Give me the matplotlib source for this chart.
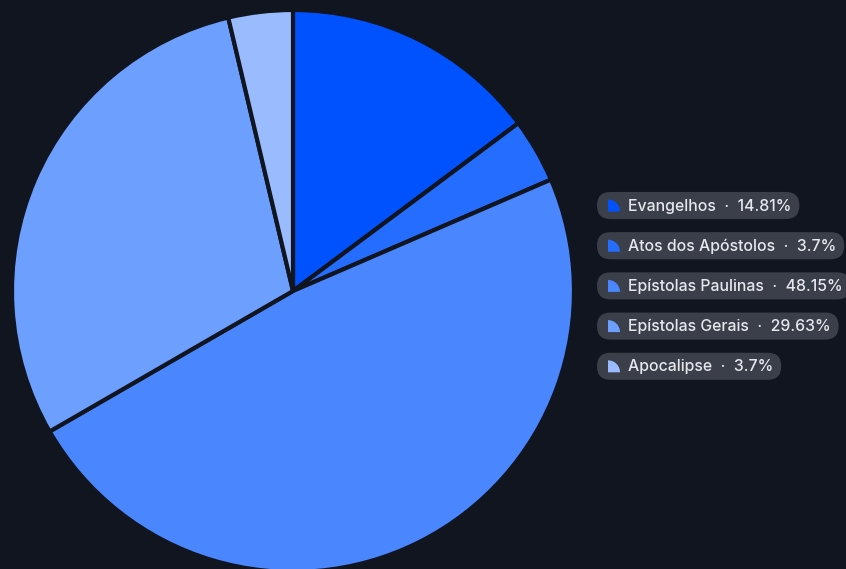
import matplotlib.pyplot as plt
from matplotlib.patches import FancyBboxPatch, Wedge

plt.rcParams['font.family'] = ['Inter', 'DejaVu Sans']

labels = ['Evangelhos', 'Atos dos Apóstolos', 'Epístolas Paulinas', 'Epístolas Gerais', 'Apocalipse']
values = [14.81, 3.7, 48.15, 29.63, 3.7]
colors = ['#0052ff', '#256dff', '#4a87ff', '#6d9fff', '#9abcff']

bg = '#10151f'
W, H = 846, 569

fig = plt.figure(figsize=(W / 100, H / 100), dpi=100, facecolor=bg)

# pie: centre ~(293, 291) px, radius ~281 px
cx, cy, r = 293, 291, 281
ax = fig.add_axes([(cx - r) / W, (H - cy - r) / H, 2 * r / W, 2 * r / H])
ax.set_facecolor(bg)
ax.pie(values, colors=colors, startangle=90, counterclock=False,
       wedgeprops=dict(edgecolor=bg, linewidth=3, joinstyle='round'))
ax.set_xlim(-1, 1)
ax.set_ylim(-1, 1)
ax.set_aspect('equal')
ax.axis('off')

# legend drawn in pixel coordinates
lg = fig.add_axes([0, 0, 1, 1])
lg.set_xlim(0, W)
lg.set_ylim(H, 0)
lg.axis('off')
lg.patch.set_alpha(0)

fig.canvas.draw()
rend = fig.canvas.get_renderer()

x0 = 597
y_first = 205.5
step = 40.2
pad = 13.5
for i, (lab, v, c) in enumerate(zip(labels, values, colors)):
    yc = y_first + i * step
    t = lg.text(628, yc + 0.5, f'{lab}  ·  {v:g}%', color='#e6e8ee', fontsize=11.4,
                fontweight='medium', va='center', ha='left', zorder=3)
    bb = t.get_window_extent(renderer=rend)
    x1 = bb.x1 + 8
    pill = FancyBboxPatch((x0 + pad, yc - 0.05), max(x1 - x0 - 2 * pad, 1), 0.1,
                          boxstyle=f'round,pad={pad}', fc='#3b3f49', ec='none', zorder=1)
    lg.add_patch(pill)
    lg.add_patch(Wedge((608, yc + 6), 12, 270, 360, fc=c, ec='none', zorder=2))

fig.savefig('out.png', dpi=100, facecolor=bg)
